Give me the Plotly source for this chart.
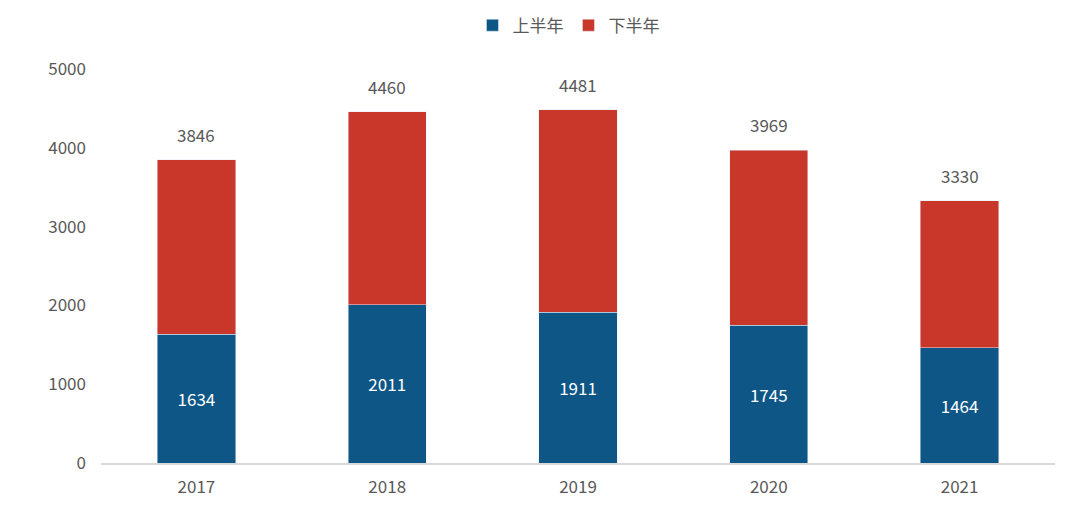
import plotly.graph_objects as go

years = ["2017", "2018", "2019", "2020", "2021"]
first_half = [1634, 2011, 1911, 1745, 1464]
totals = [3846, 4460, 4481, 3969, 3330]
second_half = [t - f for t, f in zip(totals, first_half)]

fig = go.Figure()
fig.add_bar(x=years, y=first_half, name="上半年", marker_color="#0D5686",
            text=[str(v) for v in first_half], textposition="inside", insidetextanchor="middle",
            textfont=dict(color="white", size=17))
fig.add_bar(x=years, y=second_half, name="下半年", marker_color="#C9372A")
for i, t in enumerate(totals):
    fig.add_annotation(x=i, y=t, xref="x", yref="y", text=str(t), showarrow=False,
                       yanchor="bottom", yshift=11, font=dict(size=17, color="#595959"))

fig.update_layout(
    barmode="stack", bargap=0.59, width=1080, height=524,
    paper_bgcolor="white", plot_bgcolor="white",
    margin=dict(l=93, r=33, t=61, b=69, autoexpand=False),
    font=dict(family="Noto Sans CJK SC", color="#595959", size=17),
    legend=dict(orientation="h", x=0.49, xanchor="center", y=1.11, yanchor="middle",
                font=dict(size=17), traceorder="normal"),
    xaxis=dict(type="category", showline=True, linecolor="#D9D9D9", linewidth=1.5, tickfont=dict(size=17),
               ticklabelstandoff=8),
    yaxis=dict(range=[0, 5000], dtick=1000, showgrid=False, zeroline=False, tickfont=dict(size=17),
               ticklabelstandoff=14),
)
fig.write_html("out.html")
